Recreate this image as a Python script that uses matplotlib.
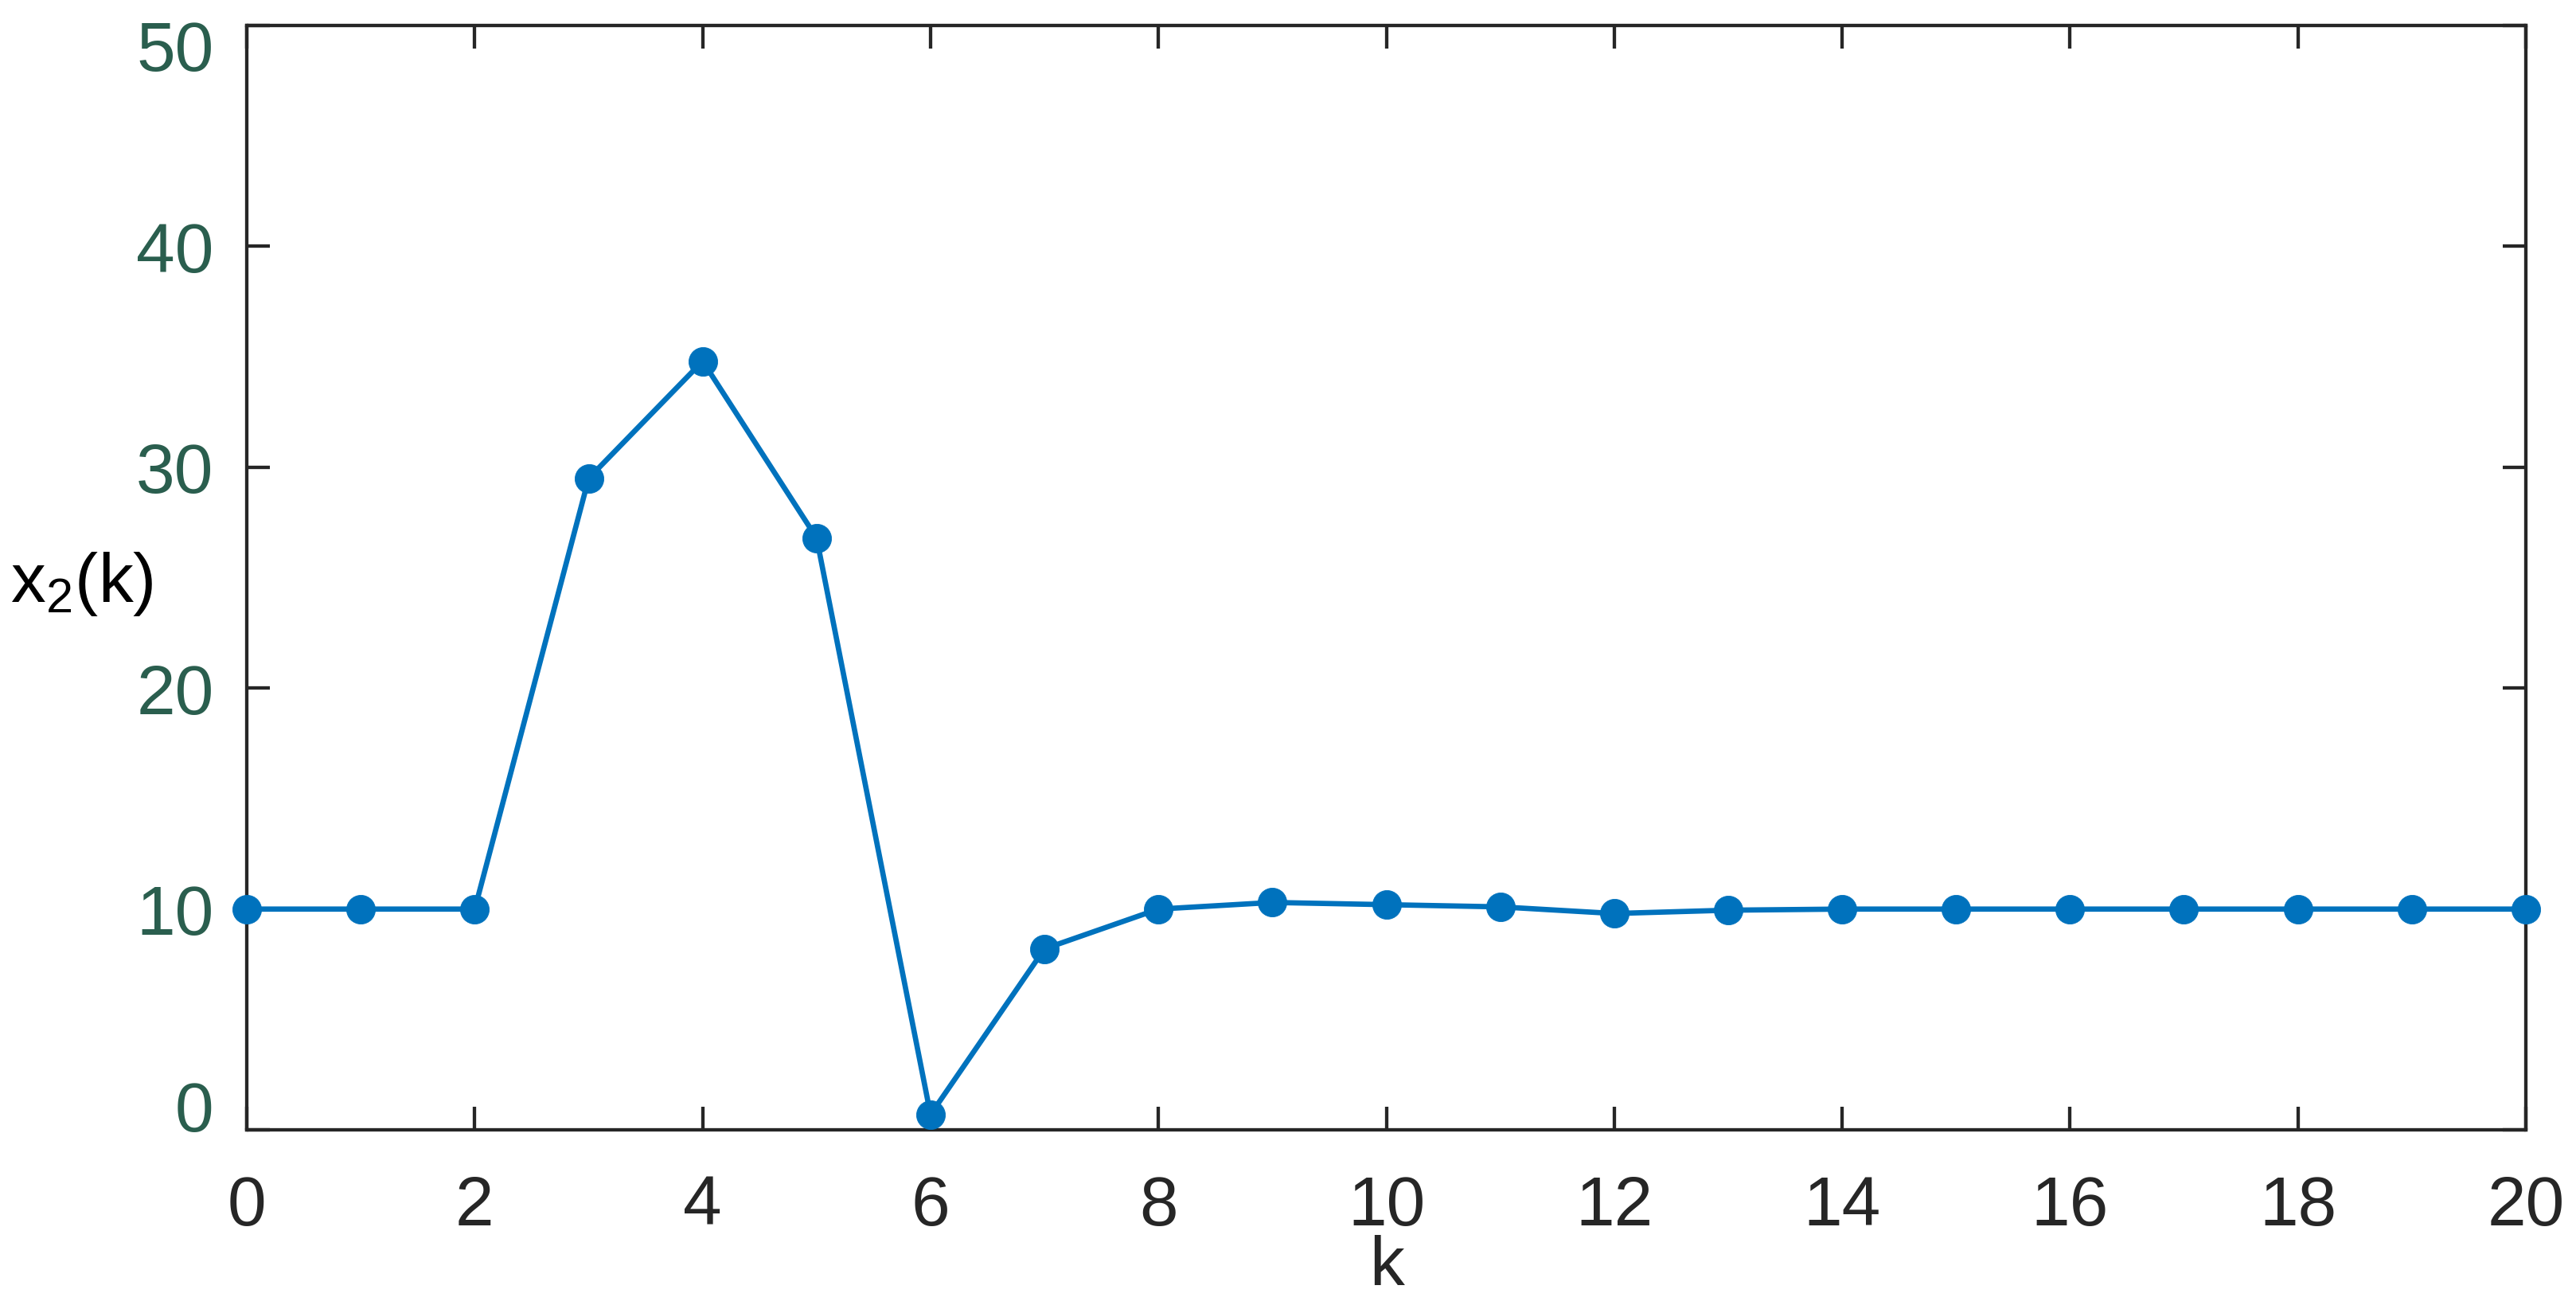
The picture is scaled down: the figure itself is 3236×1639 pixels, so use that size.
import matplotlib
matplotlib.use("Agg")
import matplotlib.pyplot as plt
from matplotlib.transforms import ScaledTranslation

# Data
k = list(range(21))
x2 = [10, 10, 10, 29.5, 34.8, 26.8, 0.7, 8.2, 10.0, 10.3, 10.2, 10.1,
      9.8, 9.95, 10, 10, 10, 10, 10, 10, 10]
xticks = list(range(0, 21, 2))
yticks = [0, 10, 20, 30, 40, 50]

plt.rcParams['font.family'] = ['Liberation Sans', 'DejaVu Sans']
plt.rcParams['mathtext.fontset'] = 'custom'
plt.rcParams['mathtext.rm'] = 'Liberation Sans'
plt.rcParams['mathtext.it'] = 'Liberation Sans'

dark = '#262626'
ycol = '#2A5E4E'
blue = '#0072BD'

fig = plt.figure(figsize=(32.37, 16.40), dpi=100)
ax = fig.add_axes([0.0958, 0.134, 0.8844, 0.846])

ax.plot(k, x2, color=blue, lw=4.8, marker='o', ms=26, mew=0.6,
        clip_on=False, zorder=3)

ax.set_xlim(0, 20)
ax.set_ylim(0, 50)
ax.set_xticks(xticks)
ax.set_yticks(yticks)

for s in ax.spines.values():
    s.set_linewidth(3.1)
    s.set_color(dark)

ax.tick_params(direction='in', length=21, width=3.1, color=dark,
               top=True, right=True, labelsize=63)
ax.tick_params(axis='x', colors=dark, pad=40)
ax.tick_params(axis='y', labelcolor=ycol, pad=30)

# end labels of y axis are pulled inward, as in the reference
ylabels = ax.get_yticklabels()
ylabels[0].set_transform(ylabels[0].get_transform()
                         + ScaledTranslation(0, 0.31, fig.dpi_scale_trans))
ylabels[-1].set_transform(ylabels[-1].get_transform()
                          + ScaledTranslation(0, -0.25, fig.dpi_scale_trans))

ax.set_xlabel('k', fontsize=63, color=dark, labelpad=-4)
ax.set_ylabel('x$_2$(k)', fontsize=63, color='black', rotation=0,
              ha='center', va='center')
ax.yaxis.set_label_coords(-0.0723, 0.495)

fig.savefig('out.png', dpi=100)
